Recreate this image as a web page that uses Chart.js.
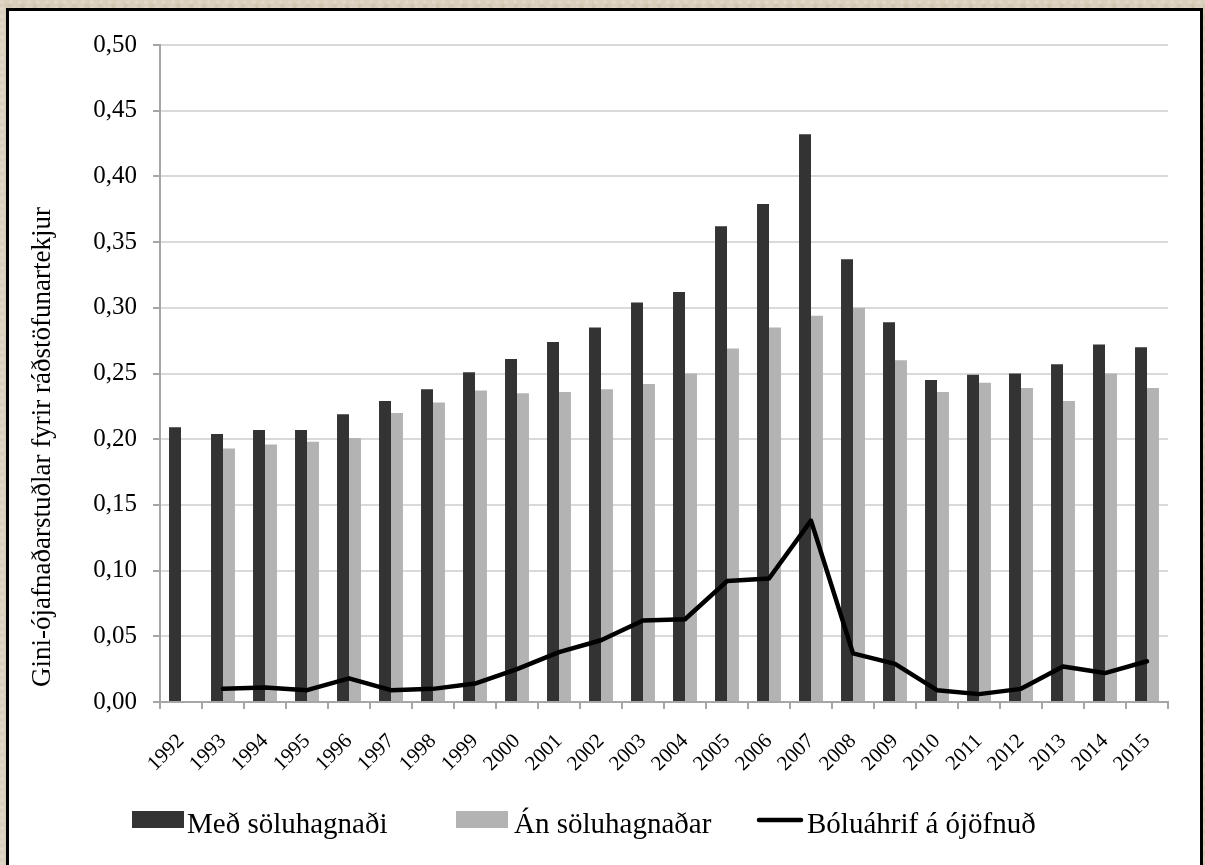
<!DOCTYPE html>
<html>
<head>
<meta charset="utf-8">
<script src="https://cdn.jsdelivr.net/npm/chart.js@4/dist/chart.umd.min.js"></script>
<style>
  html, body { margin: 0; padding: 0; }
  body {
    width: 1205px; height: 865px; overflow: hidden; position: relative;
    background-color: #d9cfbb;
    background-image:
      radial-gradient(circle at 20% 30%, rgba(255,255,255,0.25) 0, rgba(255,255,255,0) 3px),
      radial-gradient(circle at 70% 60%, rgba(150,130,100,0.18) 0, rgba(150,130,100,0) 4px),
      radial-gradient(circle at 40% 80%, rgba(255,255,255,0.2) 0, rgba(255,255,255,0) 2px);
    background-size: 9px 7px, 13px 11px, 6px 10px;
  }
  #frame {
    position: absolute; left: 6px; top: 8px; width: 1197px; height: 880px;
    box-sizing: border-box; border: 3px solid #000; background: #fff;
  }
  #wrap { position: absolute; left: 0; top: 0; width: 1205px; height: 865px; }
</style>
</head>
<body>
<div id="frame"></div>
<div id="wrap"><canvas id="c" width="1205" height="865"></canvas></div>
<script>
const years = ["1992","1993","1994","1995","1996","1997","1998","1999","2000","2001","2002","2003","2004","2005","2006","2007","2008","2009","2010","2011","2012","2013","2014","2015"];
const medSoluhagnadi = [0.209,0.204,0.207,0.207,0.219,0.229,0.238,0.251,0.261,0.274,0.285,0.304,0.312,0.362,0.379,0.432,0.337,0.289,0.245,0.249,0.250,0.257,0.272,0.270];
const anSoluhagnadar = [null,0.193,0.196,0.198,0.201,0.220,0.228,0.237,0.235,0.236,0.238,0.242,0.250,0.269,0.285,0.294,0.300,0.260,0.236,0.243,0.239,0.229,0.250,0.239];
const boluahrif = [null,0.010,0.011,0.009,0.018,0.009,0.010,0.014,0.025,0.038,0.047,0.062,0.063,0.092,0.094,0.138,0.037,0.029,0.009,0.006,0.010,0.027,0.022,0.031];
const seriesNames = ["Með söluhagnaði","Án söluhagnaðar","Bóluáhrif á ójöfnuð"];
const yTitle = "Gini-ójafnaðarstuðlar fyrir ráðstöfunartekjur";

const FONT = "'Liberation Serif', 'DejaVu Serif', serif";
const DARK = '#333333', LIGHT = '#b3b3b3';

const extras = {
  id: 'extras',
  afterDraw(chart) {
    const ctx = chart.ctx;
    ctx.save();
    ctx.fillStyle = '#000';
    ctx.font = "27px " + FONT;
    ctx.textAlign = 'center';
    ctx.textBaseline = 'alphabetic';
    ctx.translate(50, 447);
    ctx.rotate(-Math.PI / 2);
    ctx.fillText(yTitle, 0, 0);
    ctx.restore();

    ctx.save();
    ctx.font = "29px " + FONT;
    ctx.textAlign = 'left';
    ctx.textBaseline = 'alphabetic';
    ctx.fillStyle = DARK; ctx.fillRect(132, 811, 52, 17);
    ctx.fillStyle = '#000'; ctx.fillText(seriesNames[0], 187, 833);
    ctx.fillStyle = LIGHT; ctx.fillRect(456, 811, 52, 17);
    ctx.fillStyle = '#000'; ctx.fillText(seriesNames[1], 514, 833);
    ctx.strokeStyle = '#000'; ctx.lineWidth = 4.5; ctx.lineCap = 'round';
    ctx.beginPath(); ctx.moveTo(759, 820); ctx.lineTo(801, 820); ctx.stroke();
    ctx.fillText(seriesNames[2], 807, 833);
    ctx.restore();
  }
};

new Chart(document.getElementById('c'), {
  type: 'bar',
  data: {
    labels: years,
    datasets: [
      { type: 'line', label: seriesNames[2], data: boluahrif, borderColor: '#000', backgroundColor: '#000',
        borderWidth: 4.5, pointRadius: 0, tension: 0, order: 0, borderJoinStyle: 'round', borderCapStyle: 'round' },
      { label: seriesNames[0], data: medSoluhagnadi, backgroundColor: DARK, order: 1,
        categoryPercentage: 0.57, barPercentage: 1.0 },
      { label: seriesNames[1], data: anSoluhagnadar, backgroundColor: LIGHT, order: 1,
        categoryPercentage: 0.57, barPercentage: 1.0 }
    ]
  },
  options: {
    responsive: false,
    animation: false,
    layout: { padding: { left: 0, top: 45, right: 37, bottom: 93 } },
    plugins: { legend: { display: false }, tooltip: { enabled: false } },
    scales: {
      x: {
        offset: true,
        grid: { offset: true, drawOnChartArea: false, drawTicks: true, tickLength: 7, tickColor: '#a6a6a6', tickWidth: 2, lineWidth: 2 },
        border: { color: '#a6a6a6', width: 2 },
        ticks: { autoSkip: false, minRotation: 45, maxRotation: 45, color: '#000', font: { family: FONT, size: 21 }, padding: 20 },
        afterFit(s) { s.height = 70; }
      },
      y: {
        min: 0, max: 0.5,
        grid: { color: '#d9d9d9', lineWidth: 2, tickColor: '#a6a6a6', tickLength: 7, tickWidth: 2 },
        border: { color: '#a6a6a6', width: 2 },
        ticks: { stepSize: 0.05, color: '#000', font: { family: FONT, size: 25 }, padding: 16,
          callback: v => v.toFixed(2).replace('.', ',') },
        afterFit(s) { s.width = 160; }
      }
    }
  },
  plugins: [extras]
});
</script>
</body>
</html>
